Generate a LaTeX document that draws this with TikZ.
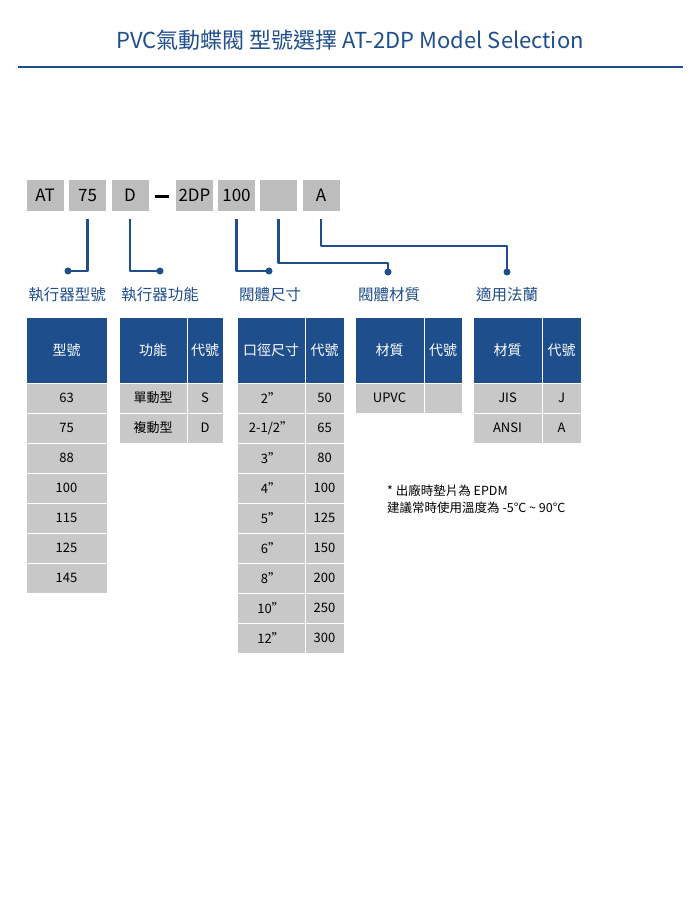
\documentclass[tikz,border=0pt]{standalone}
\usepackage{fontspec}
\setmainfont{Noto Sans CJK TC}
\usetikzlibrary{positioning}
\definecolor{navy}{HTML}{1F4E8C}
\definecolor{cellgray}{HTML}{C8C8C8}
\definecolor{codegray}{HTML}{BDBDBD}
\tikzset{
  codebox/.style={fill=codegray, minimum width=37pt, minimum height=31pt, inner sep=0pt, font=\fontsize{17}{17}\selectfont},
  head/.style={fill=navy, draw=white, line width=0.8pt, text=white, inner sep=0pt, minimum height=66pt, font=\fontsize{14}{14}\selectfont},
  cell/.style={fill=cellgray, draw=white, line width=0.8pt, inner sep=0pt, minimum height=30pt, font=\fontsize{13}{13}\selectfont},
  link/.style={navy, line width=2.2pt},
  title/.style={navy, font=\fontsize{15.5}{16}\selectfont},
}
\begin{document}
\begin{tikzpicture}[x=1pt, y=-1pt, line join=round]
\useasboundingbox (0,0) rectangle (700,899);
\fill[white] (0,0) rectangle (700,899);
% heading
\node[navy, font=\fontsize{22}{24}\selectfont] (head) at (350,40) {PVC氣動蝶閥 型號選擇 AT-2DP Model Selection};
\draw[navy, line width=2.5pt] (18,67) -- (683,67);
% model code boxes
\node[codebox] (at) at (45,195.5) {AT};
\node[codebox] (size) at (87.5,195.5) {75};
\node[codebox] (func) at (130,195.5) {D};
\draw[line width=3pt] (155,196) -- (169,196);
\node[codebox] (dp) at (194.5,195.5) {2DP};
\node[codebox] (bore) at (236.5,195.5) {100};
\node[codebox] (mat) at (278.5,195.5) {};
\node[codebox] (fl) at (321,195.5) {A};
% connectors
\coordinate (d1) at (68,271);
\coordinate (d2) at (160,271);
\coordinate (d3) at (269,271);
\coordinate (d4) at (388,272);
\coordinate (d5) at (507,272);
\draw[link] (size.south) ++(0,8) |- (d1);
\draw[link] (func.south) ++(0,8) |- (d2);
\draw[link] (bore.south) ++(0,8) |- (d3);
\draw[link] (mat.south) ++(0,8) |- (388,263) -- (d4);
\draw[link] (fl.south) ++(0,8) |- (507,246) -- (d5);
\foreach \d in {d1,d2,d3,d4,d5} \fill[navy] (\d) circle(3.5pt);
% group titles
\node[title] (t1) at (67,295) {執行器型號};
\node[title] (t2) at (160,295) {執行器功能};
\node[title] (t3) at (270,295) {閥體尺寸};
\node[title] (t4) at (389,295) {閥體材質};
\node[title] (t5) at (507,295) {適用法蘭};
% headers
\node[head, minimum width=81pt] (h1) at (66.5,350) {型號};
\node[head, minimum width=68pt] (h2a) at (153,350) {功能};
\node[head, minimum width=36pt] (h2b) at (205,350) {代號};
\node[head, minimum width=68pt] (h3a) at (271,350) {口徑尺寸};
\node[head, minimum width=39pt] (h3b) at (324.5,350) {代號};
\node[head, minimum width=69pt] (h4a) at (389.5,350) {材質};
\node[head, minimum width=38pt] (h4b) at (443,350) {代號};
\node[head, minimum width=69pt] (h5a) at (507.5,350) {材質};
\node[head, minimum width=39pt] (h5b) at (561.5,350) {代號};
% rows
\foreach \v [count=\i] in {63,75,88,100,115,125,145}
  \node[cell, minimum width=81pt] (m\i) at (66.5,368+30*\i) {\v};
\foreach \f/\c [count=\i] in {單動型/S,複動型/D} {
  \node[cell, minimum width=68pt] (f\i) at (153,368+30*\i) {\f};
  \node[cell, minimum width=36pt] (fc\i) at (205,368+30*\i) {\c};
}
\foreach \s/\c [count=\i] in {{2"}/50,{2-1/2"}/65,{3"}/80,{4"}/100,{5"}/125,{6"}/150,{8"}/200,{10"}/250,{12"}/300} {
  \node[cell, minimum width=68pt] (s\i) at (271,368+30*\i) {\s};
  \node[cell, minimum width=39pt] (sc\i) at (324.5,368+30*\i) {\c};
}
\node[cell, minimum width=69pt] (u1) at (389.5,398) {UPVC};
\node[cell, minimum width=38pt] (uc1) at (443,398) {};
\foreach \g/\c [count=\i] in {JIS/J,ANSI/A} {
  \node[cell, minimum width=69pt] (g\i) at (507.5,368+30*\i) {\g};
  \node[cell, minimum width=39pt] (gc\i) at (561.5,368+30*\i) {\c};
}
% note
\node[anchor=north west, align=left, inner sep=0pt, font=\fontsize{12.5}{17}\selectfont] (note) at (387,485)
  {* 出廠時墊片為 EPDM\\建議常時使用溫度為 -5°C \textasciitilde{} 90°C};
\end{tikzpicture}
\end{document}
